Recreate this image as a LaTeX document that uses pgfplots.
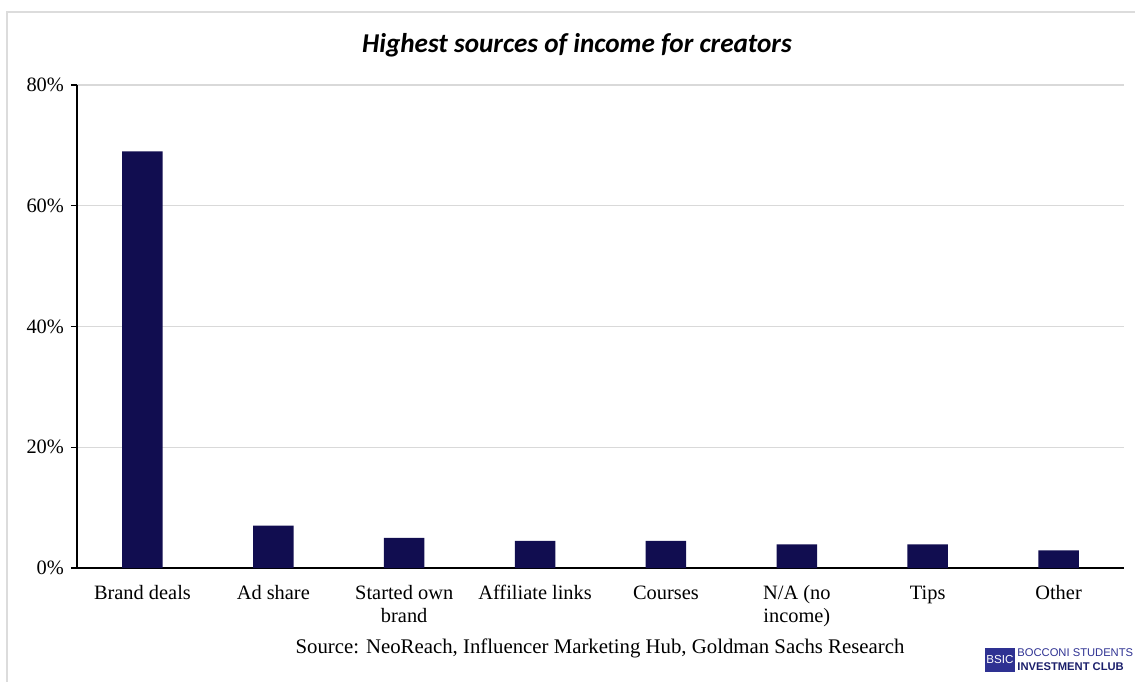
\documentclass[border=0pt]{standalone}
\usepackage{fontspec}
\setmainfont{Liberation Serif}
\newfontfamily\titlefont{Carlito}
\newfontfamily\logofont{Liberation Sans}
\usepackage{pgfplots}
\pgfplotsset{compat=1.18}
\definecolor{barnavy}{HTML}{110D50}
\definecolor{gridgray}{HTML}{D9D9D9}
\definecolor{framegray}{HTML}{DCDCDC}
\definecolor{logoblue}{HTML}{2E3192}
\definecolor{logonavy}{HTML}{1B1F6B}
\begin{document}
\begin{tikzpicture}[x=1pt,y=1pt]
\useasboundingbox (0,0) rectangle (567.5,340.5);
\draw[framegray, line width=1pt] (3.5,-2) -- (3.5,334.5) -- (570,334.5);
\begin{axis}[
  at={(38.5pt,56.5pt)}, anchor=south west,
  scale only axis, width=523.5pt, height=241.5pt,
  xmin=-0.5, xmax=7.5, ymin=0, ymax=80,
  ytick={0,20,40,60,80},
  yticklabel={\pgfmathprintnumber{\tick}\%},
  /pgf/number format/assume math mode=true,
  xtick={0,1,2,3,4,5,6,7},
  xticklabels={Brand deals, Ad share, {Started own\\brand}, Affiliate links, Courses, {N/A (no\\income)}, Tips, Other},
  x tick label style={align=center, anchor=north, font=\fontsize{10.2}{11.6}\selectfont, yshift=-1pt},
  y tick label style={font=\fontsize{10.2}{12}\selectfont},
  typeset ticklabels with strut,
  xtick style={draw=none},
  ytick style={black, line width=0.6pt},
  tick align=outside, major tick length=3pt,
  axis x line*=bottom, axis y line*=left,
  axis line style={-, black, line width=0.7pt},
  ymajorgrids, grid style={gridgray, line width=0.6pt},
  ybar, bar width=0.31,
  clip=false,
]
\addplot[fill=barnavy, draw=none] coordinates {
  (0,69) (1,7) (2,5) (3,4.5) (4,4.5) (5,3.9) (6,3.9) (7,2.9)
};
\end{axis}
\node[font=\titlefont\bfseries\itshape\fontsize{13.6}{15}\selectfont] at (288.5,318) {Highest sources of income for creators};
\node[font=\fontsize{10.4}{12}\selectfont] at (300,16.5) {Source: NeoReach, Influencer Marketing Hub, Goldman Sachs Research};
\fill[logoblue] (492.5,4.5) rectangle (507.5,16.5);
\node[text=white, font=\logofont\fontsize{5.8}{6}\selectfont, inner sep=0] at (500,10.5) {BSIC};
\node[anchor=west, text=logoblue, font=\logofont\fontsize{5.6}{6}\selectfont, inner sep=0] at (508.5,14) {BOCCONI STUDENTS};
\node[anchor=west, text=logonavy, font=\logofont\bfseries\fontsize{5.6}{6}\selectfont, inner sep=0] at (508.5,7) {INVESTMENT CLUB};
\end{tikzpicture}
\end{document}
